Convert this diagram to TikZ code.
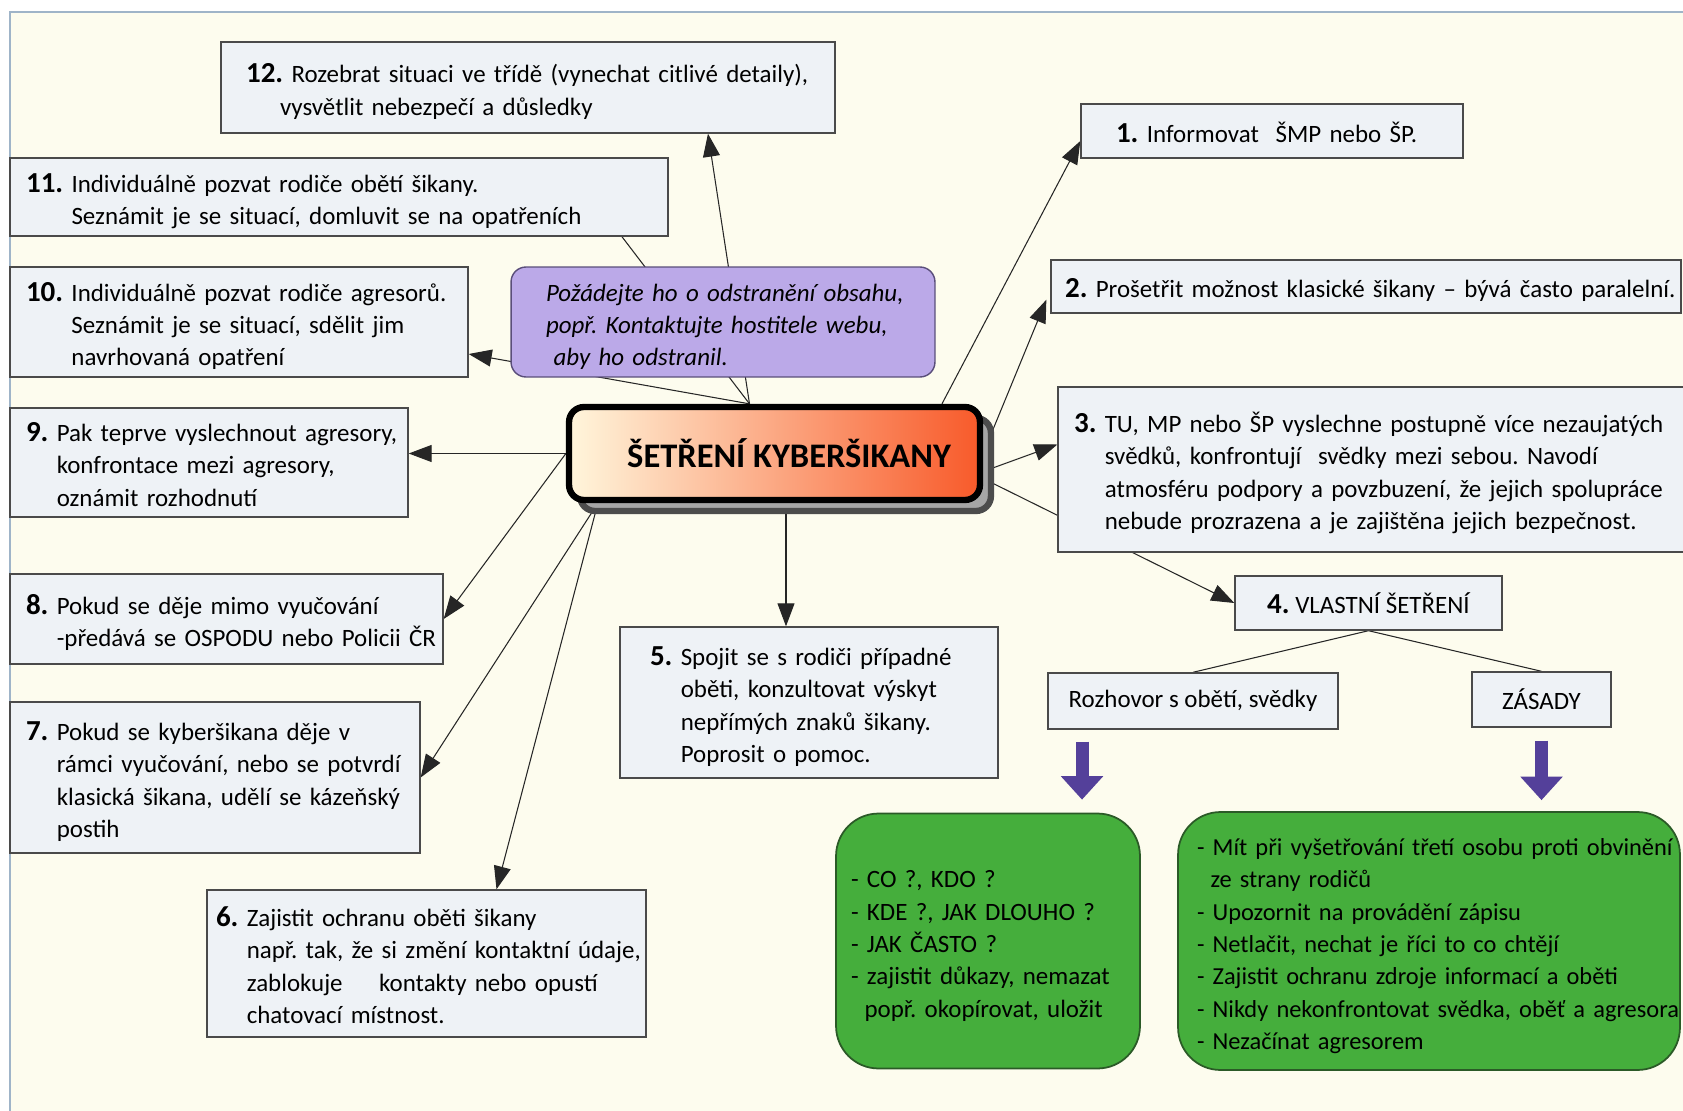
\documentclass[tikz,border=0pt]{standalone}
\usepackage{fontspec}
\setmainfont{Carlito}
\usepackage{tikz}
\usetikzlibrary{positioning, arrows.meta, shadows}
\usepackage{xcolor}
\pgfdeclarelayer{bg}
\pgfdeclarelayer{wires}
\pgfsetlayers{bg,wires,main}
\frenchspacing

\definecolor{paper}{HTML}{FDFCEE}
\definecolor{frameline}{HTML}{9FB4C8}
\definecolor{boxfill}{HTML}{EEF2F6}
\definecolor{boxline}{HTML}{4A4A4A}
\definecolor{lilac}{HTML}{BBA9E8}
\definecolor{lilacline}{HTML}{5A4E7A}
\definecolor{leaf}{HTML}{45AE3C}
\definecolor{leafline}{HTML}{2B5A27}
\definecolor{plum}{HTML}{54409A}
\definecolor{titlel}{HTML}{FFF6DC}
\definecolor{titler}{HTML}{F85A2A}

\newcommand{\nr}[1]{{\fontsize{16.5}{18.4}\selectfont\bfseries #1}}
\newcommand{\textlines}[1]{\noindent\raisebox{0pt}[\dimexpr\height+0.2cm\relax][\depth]{%
  \begin{tabular}{@{}l@{}}#1\end{tabular}}}
\newcommand{\numbered}[2]{\noindent\raisebox{0pt}[\dimexpr\height+0.2cm\relax][\depth]{%
  \begin{tabular}{@{}l@{\ }l@{}}\nr{#1} & \begin{tabular}[t]{@{}l@{}}#2\end{tabular}\end{tabular}}}

\begin{document}
\begin{tikzpicture}[x=0.02cm, y=-0.02cm,
    font=\fontsize{14.2}{18.4}\selectfont,
    box/.style={draw=boxline, line width=0.8pt, fill=boxfill, align=left, inner ysep=0pt},
    cbox/.style={draw=boxline, line width=0.8pt, fill=boxfill, align=center, inner sep=0pt},
    note/.style={draw=lilacline, line width=0.8pt, fill=lilac, rounded corners=0.3cm,
      align=left, inner ysep=0pt, font=\fontsize{14.2}{18.4}\selectfont\itshape},
    leafbox/.style={draw=leafline, line width=1pt, fill=leaf, rounded corners=0.85cm,
      align=left, inner ysep=0pt},
    title/.style={draw=black, line width=3.6pt, rounded corners=0.3cm,
      left color=titlel, right color=titler,
      drop shadow={shadow xshift=0.22cm, shadow yshift=-0.22cm, fill=gray!70,
        draw=gray!60!black, opacity=1},
      font=\fontsize{19.6}{22}\selectfont\bfseries},
    link/.style={draw=black!85, line width=0.6pt, -{Triangle[length=0.46cm, width=0.34cm]}},
    plain/.style={draw=black!85, line width=0.6pt},
    bigarrow/.style={draw=plum, line width=0.26cm, -{Triangle[length=0.47cm, width=0.82cm]}},
  ]
  \useasboundingbox (0,0) rectangle (1683,1111);

  \begin{pgfonlayer}{bg}
    \fill[white] (0,0) rectangle (1683,1111);
    \fill[paper] (10,12) rectangle (1683,1111);
    \draw[frameline, line width=0.8pt] (10,1111) -- (10,12) -- (1683,12);
  \end{pgfonlayer}

  % centre
  \node[title, minimum width=8.22cm, minimum height=1.86cm] (centre) at (774.5,453.5)
    {\hspace*{0.58cm}ŠETŘENÍ KYBERŠIKANY};

  % left side
  \node[box, text width=11.28cm, inner xsep=0.5cm, minimum height=1.82cm] (b12) at (528,87.5)
    {\textlines{\nr{12.} Rozebrat situaci ve třídě (vynechat citlivé detaily),\\\hspace*{0.68cm}vysvětlit nebezpečí a důsledky}};
  \node[box, text width=12.52cm, inner xsep=0.32cm, minimum height=1.56cm] (b11) at (339,197)
    {\numbered{11.}{Individuálně pozvat rodiče obětí šikany.\\Seznámit je se situací, domluvit se na opatřeních}};
  \node[box, text width=8.52cm, inner xsep=0.32cm, minimum height=2.2cm] (b10) at (239,322)
    {\numbered{10.}{Individuálně pozvat rodiče agresorů.\\Seznámit je se situací, sdělit jim\\navrhovaná opatření}};
  \node[box, text width=7.32cm, inner xsep=0.32cm, minimum height=2.18cm] (b9) at (209,462.5)
    {\numbered{9.}{Pak teprve vyslechnout agresory,\\konfrontace mezi agresory,\\oznámit rozhodnutí}};
  \node[box, text width=8.02cm, inner xsep=0.32cm, minimum height=1.8cm] (b8) at (226.5,619)
    {\numbered{8.}{Pokud se děje mimo vyučování\\-předává se OSPODU nebo Policii ČR}};
  \node[box, text width=7.56cm, inner xsep=0.32cm, minimum height=3.02cm] (b7) at (215,777.5)
    {\numbered{7.}{Pokud se kyberšikana děje v\\rámci vyučování, nebo se potvrdí\\klasická šikana, udělí se kázeňský\\postih}};
  \node[box, text width=8.42cm, inner xsep=0.18cm, minimum height=2.94cm] (b6) at (426.5,963.5)
    {\numbered{6.}{Zajistit ochranu oběti šikany\\např. tak, že si změní kontaktní údaje,\\zablokuje\hspace{0.73cm}kontakty nebo opustí\\chatovací místnost.}};
  \node[box, text width=6.36cm, inner xsep=0.6cm, minimum height=3.02cm] (b5) at (809,702.5)
    {\numbered{5.}{Spojit se s rodiči případné\\oběti, konzultovat výskyt\\nepřímých znaků šikany.\\Poprosit o pomoc.}};
  \node[note, text width=7.08cm, inner xsep=0.7cm, minimum height=2.2cm] (hint) at (723,322)
    {\textlines{Požádejte ho o odstranění obsahu,\\popř. Kontaktujte hostitele webu,\\\hspace*{0.15cm}aby ho odstranil.}};

  % right side
  \node[box, text width=6.24cm, inner xsep=0.7cm, minimum height=1.08cm] (b1) at (1272,131)
    {\textlines{\nr{1.} Informovat\ \ ŠMP nebo ŠP.}};
  \node[box, text width=12.04cm, inner xsep=0.28cm, minimum height=1.06cm] (b2) at (1366,286.5)
    {\textlines{\nr{2.} Prošetřit možnost klasické šikany – bývá často paralelní.}};
  \node[box, text width=12.0cm, inner xsep=0.32cm, minimum height=3.3cm] (b3) at (1374,469.5)
    {\numbered{3.}{TU, MP nebo ŠP vyslechne postupně více nezaujatých\\svědků, konfrontují\ \ svědky mezi sebou. Navodí\\atmosféru podpory a povzbuzení, že jejich spolupráce\\nebude prozrazena a je zajištěna jejich bezpečnost.}};
  \node[cbox, minimum width=5.34cm, minimum height=1.08cm] (b4) at (1368.5,603)
    {\nr{4.} VLASTNÍ ŠETŘENÍ};
  \node[cbox, minimum width=5.8cm, minimum height=1.12cm] (roz) at (1193,701)
    {Rozhovor s obětí, svědky};
  \node[cbox, minimum width=2.78cm, minimum height=1.1cm] (zas) at (1541.5,699.5)
    {ZÁSADY};
  \node[leafbox, text width=5.48cm, inner xsep=0.3cm, minimum height=5.1cm] (gl) at (988,941)
    {\textlines{- CO ?, KDO ?\\- KDE ?, JAK DLOUHO ?\\- JAK ČASTO ?\\- zajistit důkazy, nemazat\\\hspace*{0.27cm}popř. okopírovat, uložit}};
  \node[leafbox, text width=9.28cm, inner xsep=0.38cm, minimum height=5.16cm,
    font=\fontsize{13.9}{18.4}\selectfont] (gr) at (1429,941)
    {\textlines{- Mít při vyšetřování třetí osobu proti obvinění\\\hspace*{0.27cm}ze strany rodičů\\- Upozornit na provádění zápisu\\- Netlačit, nechat je říci to co chtějí\\- Zajistit ochranu zdroje informací a oběti\\- Nikdy nekonfrontovat svědka, oběť a agresora\\- Nezačínat agresorem}};

  \begin{pgfonlayer}{wires}
    \draw[link]
      ([xshift=-0.5cm]centre.north) -- ([xshift=3.6cm]b12.south);
    \draw[plain]
      ([xshift=-0.5cm]centre.north) -- ([xshift=5.66cm]b11.south);
    \draw[link]
      ([xshift=-0.5cm]centre.north) -- ([yshift=-0.64cm]b10.east);
    \draw[link]
      (centre.west) -- (centre.west -| b9.east);
    \draw[link]
      (centre.west) -- (b8.east);
    \draw[link]
      ([xshift=0.64cm]centre.south west) -- (b7.east);
    \draw[link]
      ([xshift=0.64cm]centre.south west) -- ([xshift=1.4cm]b6.north);
    \draw[link]
      ([xshift=0.23cm]centre.south) -- ([xshift=0.23cm]centre.south |- b5.north);
    \draw[link]
      ([yshift=-0.5cm]centre.east) -- (b4.west);
    \draw[link]
      ([yshift=-0.36cm]centre.east) -- ([yshift=0.5cm]b3.west);
    \draw[link]
      (centre.east) -- ([shift={(-0.08cm,0.28cm)}]b2.south west);
    \draw[link]
      ([xshift=3.35cm]centre.north) -- ([yshift=-0.2cm]b1.west);
    \draw[plain]
      (b4.south) -- (roz.north);
    \draw[plain]
      (b4.south) -- (zas.north);
  \end{pgfonlayer}

  \draw[bigarrow, shorten >=0.26cm]
    ([xshift=-2.22cm, yshift=-0.24cm]roz.south) coordinate (p1) -- (p1 |- gl.north);
  \draw[bigarrow, shorten >=0.22cm]
    ([yshift=-0.26cm]zas.south) coordinate (p2) -- (p2 |- gr.north);
\end{tikzpicture}
\end{document}
